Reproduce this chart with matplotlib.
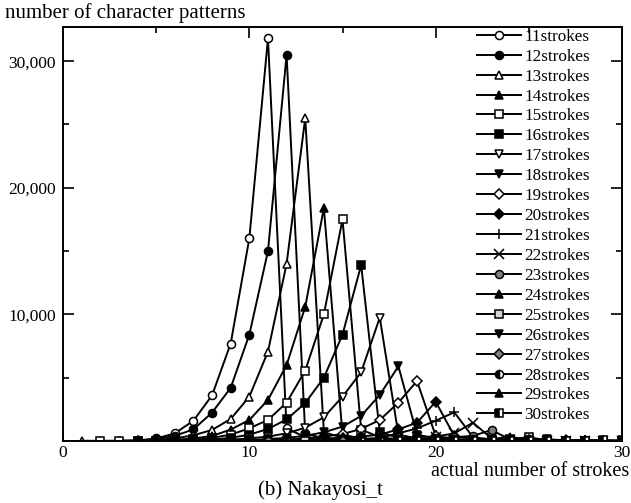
import matplotlib
matplotlib.use('Agg')
import matplotlib.pyplot as plt
import numpy as np
from matplotlib.ticker import MultipleLocator, FuncFormatter

plt.rcParams['font.family'] = ['Liberation Serif', 'DejaVu Serif']

N = None
strokes = np.arange(1, 31)

# number of character patterns per actual stroke count (x = 1..30)
s11 = [N, N, 10, 40, 200, 600, 1600, 3600, 7700, 16000, 31800, 1000, 300, 120, 60, 30, 20, 10, 5, 5, 0, 0, 0, 0, 0, 0, 0, 0, 0, 0]
s12 = [N, N, 10, 30, 150, 400, 920, 2240, 4200, 8400, 15000, 30500, 600, 200, 100, 50, 30, 20, 10, 5, 0, 0, 0, 0, 0, 0, 0, 0, 0, 0]
s13 = [20, 10, 10, 20, 80, 200, 450, 870, 1740, 3500, 7060, 14000, 25500, 700, 250, 100, 50, 30, 20, 10, 5, 0, 0, 0, 0, 0, 0, 0, 0, 0]
s14 = [N, N, N, 10, 40, 100, 200, 400, 900, 1660, 3240, 6000, 10600, 18400, 500, 200, 100, 50, 30, 20, 10, 5, 0, 0, 0, 0, 0, 0, 0, 0]
s15 = [N, 10, 10, 10, 20, 60, 120, 250, 500, 1000, 1660, 3030, 5560, 10000, 17500, 900, 300, 120, 60, 30, 20, 10, 5, 0, 0, 0, 0, 0, 0, 0]
s16 = [N, N, N, 5, 10, 30, 60, 120, 250, 500, 950, 1700, 3000, 5000, 8400, 13900, 700, 250, 100, 50, 30, 10, 5, 0, 0, 0, 0, 0, 0, 0]
s17 = [N, N, N, N, 5, 10, 20, 50, 100, 200, 350, 600, 1050, 1870, 3500, 5430, 9750, 500, 200, 80, 40, 20, 10, 0, 0, 0, 0, 0, 0, 0]
s18 = [N, N, N, N, N, 5, 10, 20, 40, 80, 150, 250, 400, 690, 1130, 1980, 3640, 5900, 500, 200, 80, 40, 20, 10, 0, 0, 0, 0, 0, 0]
s19 = [N, N, N, N, N, N, 5, 10, 20, 40, 60, 100, 200, 350, 550, 950, 1660, 3030, 4740, 400, 150, 60, 30, 10, 0, 0, 0, 0, 0, 0]
s20 = [N, N, N, 5, 5, 10, 10, 20, 30, 40, 60, 100, 150, 200, 250, 350, 500, 920, 1450, 3100, 400, 150, 60, 20, 10, 0, 0, 0, 0, 0]
s21 = [N, N, N, N, N, N, N, N, 5, 10, 20, 30, 50, 70, 100, 150, 250, 600, 1000, 1600, 2270, 300, 120, 50, 20, 10, 0, 0, 0, 0]
s22 = [N, N, N, N, N, N, N, N, N, 5, 10, 20, 30, 40, 50, 70, 100, 200, 300, 350, 600, 1450, 200, 80, 30, 10, 0, 0, 0, 0]
s23 = [N, N, N, N, N, N, N, N, N, N, 5, 10, 20, 30, 40, 50, 60, 80, 120, 200, 300, 400, 870, 100, 40, 20, 10, 0, 0, 0]
s24 = [N, N, N, N, N, N, N, N, N, N, N, 5, 10, 10, 20, 20, 30, 40, 50, 70, 100, 150, 150, 340, 50, 20, 10, 0, 0, 0]
s25 = [N, N, N, N, N, N, N, N, N, N, N, N, 5, 10, 10, 10, 20, 20, 30, 40, 50, 70, 100, 150, 290, 50, 20, 10, 0, 0]
s26 = [N, N, N, N, N, N, N, N, N, N, N, N, N, 5, 5, 10, 10, 10, 20, 20, 30, 40, 50, 80, 100, 150, 30, 10, 0, 0]
s27 = [N, N, N, N, N, N, N, N, N, N, N, N, N, N, 5, 5, 5, 10, 10, 10, 20, 20, 30, 40, 50, 60, 100, 20, 10, 0]
s28 = [N, N, N, N, N, N, N, N, N, N, N, N, N, N, N, 5, 5, 5, 5, 10, 10, 10, 20, 20, 30, 40, 50, 80, 20, 10]
s29 = [N, N, N, N, N, N, N, N, N, N, N, N, N, N, N, N, 5, 5, 5, 5, 10, 10, 10, 10, 20, 20, 30, 40, 60, 10]
s30 = [N, N, N, N, N, N, N, N, N, N, N, N, N, N, N, N, N, 5, 5, 5, 5, 10, 10, 10, 10, 20, 20, 30, 40, 50]

series = [s11, s12, s13, s14, s15, s16, s17, s18, s19, s20,
          s21, s22, s23, s24, s25, s26, s27, s28, s29, s30]
labels = [f"{n}strokes" for n in range(11, 31)]

# (marker, facecolor, fillstyle)
styles = [
    ('o', 'white', 'full'), ('o', 'black', 'full'),
    ('^', 'white', 'full'), ('^', 'black', 'full'),
    ('s', 'white', 'full'), ('s', 'black', 'full'),
    ('v', 'white', 'full'), ('v', 'black', 'full'),
    ('D', 'white', 'full'), ('D', 'black', 'full'),
    ('+', 'black', 'full'), ('x', 'black', 'full'),
    ('o', 'gray', 'full'), ('^', 'black', 'full'),
    ('s', 'lightgray', 'full'), ('v', 'black', 'full'),
    ('D', 'gray', 'full'), ('o', 'black', 'left'),
    ('^', 'black', 'full'), ('s', 'black', 'left'),
]

fig = plt.figure(figsize=(6.31, 5.03), dpi=100)
ax = fig.add_axes([0.0998, 0.1233, 0.886, 0.823])

for vals, lab, (mk, fc, fs) in zip(series, labels, styles):
    y = np.array([np.nan if v is None else v for v in vals], dtype=float)
    ms = 5.8
    if mk == 'D':
        ms = 5.2
    if mk in ('+', 'x'):
        ms = 7
    ax.plot(strokes, y, color='black', linewidth=1.4, marker=mk, markersize=ms,
            markerfacecolor=fc, markerfacecoloralt='white', fillstyle=fs,
            markeredgecolor='black', markeredgewidth=1.1, label=lab)

ax.set_xlim(0, 30)
ax.set_ylim(0, 32700)
ax.xaxis.set_major_locator(MultipleLocator(10))
ax.xaxis.set_minor_locator(MultipleLocator(5))
ax.yaxis.set_major_locator(MultipleLocator(10000))
ax.yaxis.set_minor_locator(MultipleLocator(5000))
ax.yaxis.set_major_formatter(FuncFormatter(lambda v, p: '' if v == 0 else f"{int(v):,}"))
ax.tick_params(which='both', direction='in', top=True, right=True, width=1.2,
               labelsize=12.5)
ax.tick_params(axis='y', pad=5)
ax.tick_params(axis='x', pad=3)
ax.tick_params(which='major', length=8)
ax.tick_params(which='minor', length=4)
for sp in ax.spines.values():
    sp.set_linewidth(1.4)

fig.text(5 / 631, 1 - 13 / 503, 'number of character patterns', fontsize=15,
         ha='left', va='center')
fig.text(629 / 631, 1 - 472 / 503, 'actual number of strokes', fontsize=14.5,
         ha='right', va='center')
fig.text(320 / 631, 1 - 490 / 503, '(b) Nakayosi_t', fontsize=15,
         ha='center', va='center')

ax.legend(loc='upper left', bbox_to_anchor=(0.737, 1.0), frameon=False,
          fontsize=12.3, handlelength=2.6, handletextpad=0.2, labelspacing=0.23,
          borderpad=0.1, borderaxespad=0)

fig.savefig('out.png', dpi=100)
